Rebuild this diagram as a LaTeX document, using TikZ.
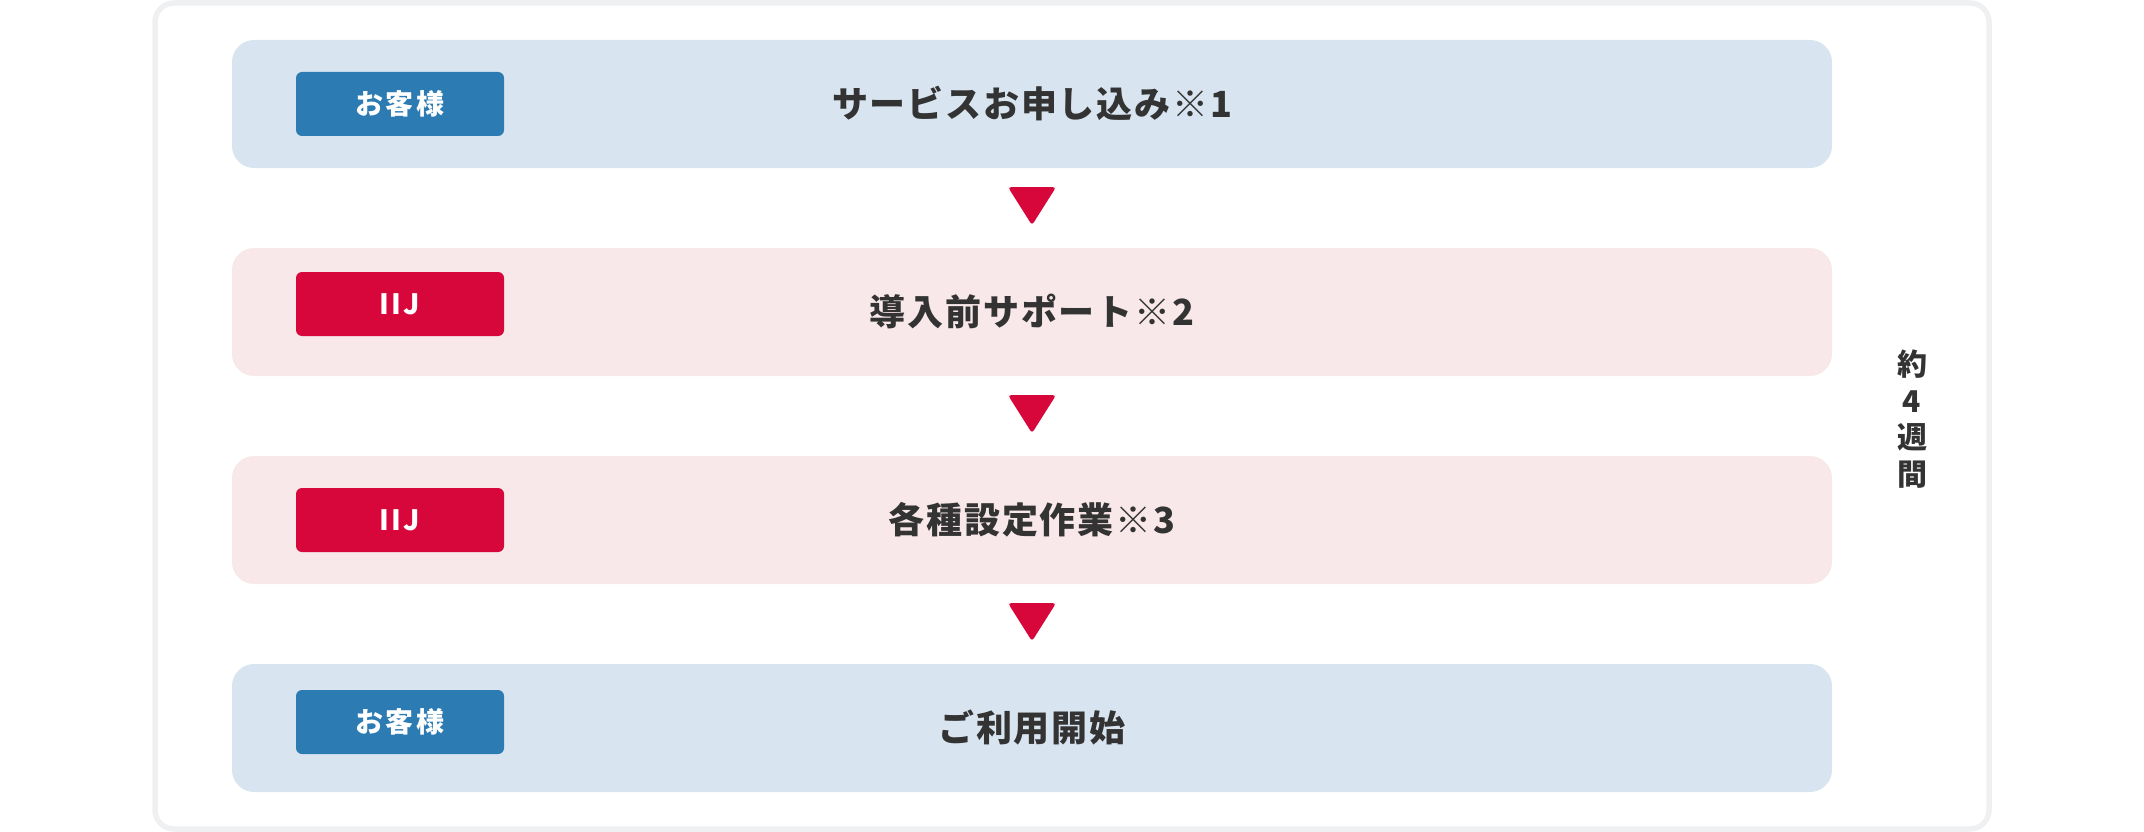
\documentclass[tikz,border=0pt]{standalone}
\usepackage{fontspec}
\newfontfamily\jpmain{Noto Sans CJK JP}[LetterSpace=5]
\newfontfamily\jpbadge{Noto Sans CJK JP}[LetterSpace=8]
\newfontfamily\jpplain{Noto Sans CJK JP}
\definecolor{boxblue}{HTML}{D8E5F0}
\definecolor{boxpink}{HTML}{F8E8EA}
\definecolor{badgeblue}{HTML}{2C7BB3}
\definecolor{badgered}{HTML}{D7063B}
\definecolor{txt}{HTML}{333333}
\definecolor{frame}{HTML}{EEF0F2}
\tikzset{
  stepbox/.style={rectangle, rounded corners=22pt, minimum width=1600pt, minimum height=128pt,
    inner sep=0pt, text=txt, font=\jpmain\bfseries\fontsize{36}{43}\selectfont,
    text height=31.7pt, text depth=4.3pt},
  bluebox/.style={stepbox, fill=boxblue},
  pinkbox/.style={stepbox, fill=boxpink},
  badge/.style={rectangle, rounded corners=6pt, minimum width=208pt, minimum height=64pt,
    inner sep=0pt, text=white, font=\jpbadge\bfseries\fontsize{28}{34}\selectfont,
    text height=24.6pt, text depth=3.4pt},
  custbadge/.style={badge, fill=badgeblue},
  iijbadge/.style={badge, fill=badgered},
  downtri/.style={fill=badgered, rounded corners=3pt},
}
\begin{document}
\begin{tikzpicture}[x=1pt, y=-1pt]
\useasboundingbox (0,0) rectangle (2144,832);
\draw[line width=5.5pt, frame, rounded corners=19pt] (155,3) rectangle (1989,829);

\node[bluebox] (s1) at (1032,104) {サービスお申し込み※1};
\node[pinkbox] (s2) at (1032,312) {導入前サポート※2};
\node[pinkbox] (s3) at (1032,520) {各種設定作業※3};
\node[bluebox] (s4) at (1032,728) {ご利用開始};

\node[custbadge] (b1) at (400,104) {お客様};
\node[iijbadge]  (b2) at (400,304) {IIJ};
\node[iijbadge]  (b3) at (400,520) {IIJ};
\node[custbadge] (b4) at (400,722) {お客様};

\foreach \a/\b in {s1/s2, s2/s3, s3/s4}{
  \path (\a.south) ++(0,19) coordinate (t\a);
  \fill[downtri] (t\a) ++(-24,0) -- ++(48,0) -- ++(-24,38) -- cycle;
}

\node[text=txt, font=\jpplain\bfseries\fontsize{30}{36.5}\selectfont, align=center, inner sep=0pt]
  (dur) at (1912,419) {約\\4\\週\\間};
\end{tikzpicture}
\end{document}
